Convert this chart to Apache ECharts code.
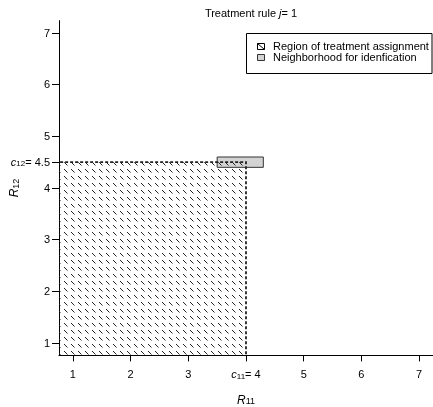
<!DOCTYPE html>
<html>
<head>
<meta charset="utf-8">
<script src="https://cdn.jsdelivr.net/npm/echarts@6/dist/echarts.min.js"></script>
<style>
  html, body { margin: 0; padding: 0; background: #fff; }
  #chart { width: 433px; height: 407px; }
</style>
</head>
<body>
<div id="chart"></div>
<script>
// Axis limits and tick positions
const axisMin = 0.76;
const axisMax = 7.24;
const xTicks = [1, 2, 3, 4, 5, 6, 7];
const yTicks = [1, 2, 3, 4, 4.5, 5, 6, 7];
// Cut-offs of treatment rule j = 1
const c11 = 4;
const c12 = 4.5;
// Region of treatment assignment: [xFrom, xTo, yFrom, yTo] (open toward the lower left)
const regionRect = [0, c11, 0, c12];
// Neighborhood used for identification: [xFrom, xTo, yFrom, yTo]
const nbhdRect = [3.5, 4.3, 4.4, 4.6];

const FONT = '"Liberation Sans", Arial, sans-serif';

// Diagonal dashed hatching tile
function makeHatch() {
  const c = document.createElement('canvas');
  c.width = 7; c.height = 7;
  const g = c.getContext('2d');
  g.strokeStyle = '#222';
  g.lineWidth = 1;
  g.beginPath();
  g.moveTo(1, 1);
  g.lineTo(4.5, 4.5);
  g.stroke();
  return c;
}
const hatch = { image: makeHatch(), repeat: 'repeat' };

function rectItem(params, api) {
  const p0 = api.coord([api.value(0), api.value(2)]);
  const p1 = api.coord([api.value(1), api.value(3)]);
  return {
    x: p0[0], y: p1[1],
    w: p1[0] - p0[0], h: p0[1] - p1[1]
  };
}

const chart = echarts.init(document.getElementById('chart'), null, { renderer: 'canvas' });

const subRich = {
  n: { fontFamily: FONT, fontSize: 11, fontWeight: 'normal', color: '#000', lineHeight: 12, verticalAlign: 'bottom' },
  i: { fontFamily: FONT, fontSize: 11, fontWeight: 'normal', fontStyle: 'italic', color: '#000', lineHeight: 12, verticalAlign: 'bottom' },
  s: { fontFamily: FONT, fontSize: 8, fontWeight: 'normal', color: '#000', lineHeight: 8, verticalAlign: 'bottom' }
};
const nameRich = {
  i: { fontFamily: FONT, fontSize: 12, fontStyle: 'italic', color: '#000', lineHeight: 13, verticalAlign: 'bottom' },
  s: { fontFamily: FONT, fontSize: 9, color: '#000', lineHeight: 9, verticalAlign: 'bottom' }
};

chart.setOption({
  animation: false,
  backgroundColor: '#fff',
  title: {
    text: '{n|Treatment rule }{i|j}{n|= 1}',
    left: 246,
    textAlign: 'center',
    top: 2,
    textStyle: { fontWeight: 'normal', rich: subRich }
  },
  grid: { left: 59, right: 0, top: 20.6, bottom: 51.6, containLabel: false, outerBoundsMode: 'none' },
  xAxis: {
    type: 'value',
    min: axisMin, max: axisMax,
    splitLine: { show: false },
    axisLine: { show: true, onZero: false, lineStyle: { color: '#000', width: 1 } },
    axisTick: { show: true, length: 6, customValues: xTicks, lineStyle: { color: '#000' } },
    axisLabel: {
      customValues: xTicks,
      margin: 13,
      formatter: v => v === c11 ? '{i|c}{s|11}{n|= ' + c11 + '}' : '{n|' + v + '}',
      rich: subRich
    },
    name: '{i|R}{s|11}',
    nameLocation: 'middle',
    nameGap: 38,
    nameMoveOverlap: false,
    nameTextStyle: { rich: nameRich }
  },
  yAxis: {
    type: 'value',
    min: axisMin, max: axisMax,
    splitLine: { show: false },
    axisLine: { show: true, onZero: false, lineStyle: { color: '#000', width: 1 } },
    axisTick: { show: true, length: 7, customValues: yTicks, lineStyle: { color: '#000' } },
    axisLabel: {
      customValues: yTicks,
      margin: 9,
      formatter: v => v === c12 ? '{i|c}{s|12}{n|= ' + c12 + '}' : '{n|' + v + '}',
      rich: subRich
    },
    name: '{i|R}{s|12}',
    nameLocation: 'middle',
    nameRotate: 90,
    nameGap: 38,
    nameMoveOverlap: false,
    nameTextStyle: { rich: nameRich }
  },
  series: [
    {
      name: 'Neighborhood for idenfication',
      type: 'custom',
      clip: true,
      z: 2,
      data: [nbhdRect],
      renderItem: (params, api) => {
        const r = rectItem(params, api);
        return {
          type: 'rect',
          shape: { x: r.x, y: r.y, width: r.w, height: r.h },
          style: { fill: '#d3d3d3', stroke: '#333', lineWidth: 1 }
        };
      }
    },
    {
      name: 'Region of treatment assignment',
      type: 'custom',
      clip: true,
      z: 3,
      data: [regionRect],
      renderItem: (params, api) => {
        const r = rectItem(params, api);
        return {
          type: 'rect',
          shape: { x: r.x, y: r.y, width: r.w, height: r.h },
          style: { fill: hatch, stroke: '#222', lineWidth: 1.8, lineDash: [3, 2] }
        };
      }
    }
  ],
  graphic: [
    { type: 'rect', shape: { x: 246.5, y: 33.5, width: 185.5, height: 40 },
      style: { fill: '#fff', stroke: '#000', lineWidth: 1 }, z: 10 },
    { type: 'rect', shape: { x: 257.5, y: 43.5, width: 7, height: 6 },
      style: { fill: '#fff', stroke: '#000', lineWidth: 1 }, z: 11 },
    { type: 'line', shape: { x1: 257.5, y1: 43.5, x2: 264.5, y2: 49.5 },
      style: { stroke: '#000', lineWidth: 1 }, z: 12 },
    { type: 'rect', shape: { x: 257.5, y: 54.5, width: 7, height: 6 },
      style: { fill: '#d3d3d3', stroke: '#333', lineWidth: 1 }, z: 11 },
    { type: 'text', x: 273, y: 47, z: 11,
      style: { text: 'Region of treatment assignment', font: '11px ' + FONT, fill: '#000', verticalAlign: 'middle' } },
    { type: 'text', x: 273, y: 58, z: 11,
      style: { text: 'Neighborhood for idenfication', font: '11px ' + FONT, fill: '#000', verticalAlign: 'middle' } }
  ]
});
</script>
</body>
</html>
